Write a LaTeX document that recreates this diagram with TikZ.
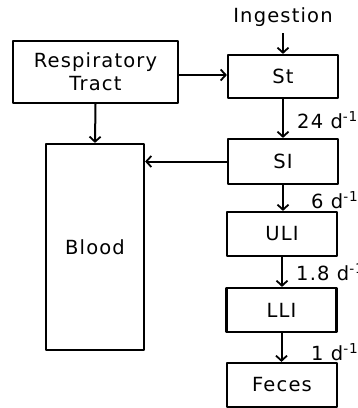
\documentclass[tikz,border=0pt]{standalone}
\usepackage{fontspec}
\setmainfont{DejaVu Sans}[LetterSpace=6]
\usetikzlibrary{arrows.meta}

\begin{document}
\begin{tikzpicture}[x=1pt, y=-1pt, line join=round,
    font=\fontsize{19.5}{21}\selectfont,
    box/.style={draw, line width=2.2pt, inner sep=0pt, align=center},
    gut/.style={box, minimum width=110pt, minimum height=44pt},
    flow/.style={line width=2pt, -{Straight Barb[length=5pt,width=11pt,line width=1.8pt]}},
    rate/.style={anchor=west, inner sep=0pt}]

  %% ==== boxes ====
  \node[box, minimum width=165pt, minimum height=62pt] (resp) at (95.5,72) {Respiratory\\[2pt]Tract};
  \node[box, minimum width=98pt, minimum height=206pt] (blood) at (95,247) {Blood};
  \node[gut, minimum height=43pt] (st) at (283,76.5) {St};
  \node[gut, minimum height=45pt] (si) at (283,161.5) {SI};
  \node[gut] (uli) at (282,234) {ULI};
  \node[gut] (lli) at (281.5,310) {LLI};
  \node[gut] (feces) at (282,385) {Feces};

  %% ==== input ====
  \node[inner sep=0pt] (ingest) at (283,17) {Ingestion};
  \coordinate (ingesttop) at (283,33);

  %% ==== arrows ====
  \draw[flow] (ingesttop) -- (st.north);
  \draw[flow] (resp.east |- 0,75) -- (st.west |- 0,75);
  \draw[flow] (resp.south) -- (blood.north);
  \draw[flow] (st.south) -- (si.north);
  \draw[flow] (si.west) -- (si.west -| blood.east);
  \draw[flow] (si.south) -- (si.south |- uli.north);
  \draw[flow] (uli.south) -- (uli.south |- lli.north);
  \draw[flow] (lli.south) -- (lli.south |- feces.north);

  %% ==== rate labels ====
  \node[rate] (r1) at (297,120) {24 d\textsuperscript{-1}};
  \node[rate] (r2) at (311,200) {6 d\textsuperscript{-1}};
  \node[rate] (r3) at (296,272) {1.8 d\textsuperscript{-1}};
  \node[rate] (r4) at (311,352) {1 d\textsuperscript{-1}};

  % canvas
  \pgfresetboundingbox
  \path[use as bounding box] (0,0) rectangle (358,408);
\end{tikzpicture}
\end{document}
